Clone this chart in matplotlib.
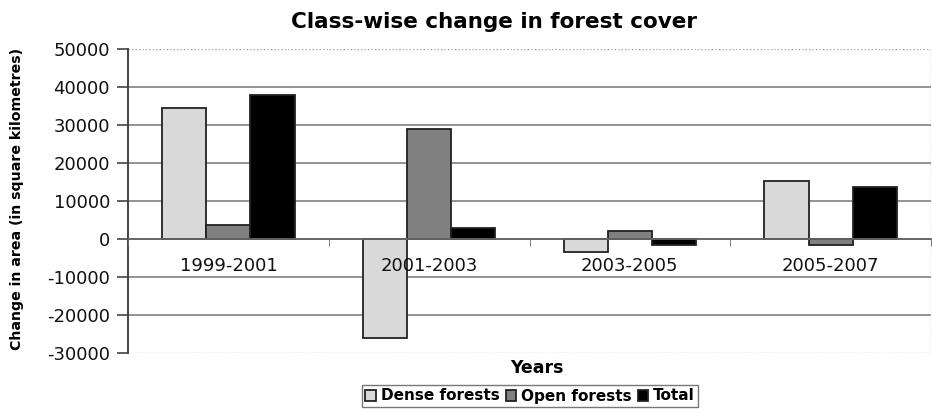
import matplotlib
matplotlib.use("Agg")
import matplotlib.pyplot as plt
import numpy as np

plt.rcParams['font.family'] = ['DejaVu Sans']

categories = ["1999-2001", "2001-2003", "2003-2005", "2005-2007"]
dense = [34500, -26000, -3500, 15200]
open_f = [3600, 29000, 2000, -1500]
total = [38000, 2800, -1500, 13600]
series_names = ["Dense forests", "Open forests", "Total"]
colors = ["#d9d9d9", "#808080", "#000000"]
yticks = [-30000, -20000, -10000, 0, 10000, 20000, 30000, 40000, 50000]

fig = plt.figure(figsize=(9.32, 4.09), dpi=100)
ax = fig.add_axes([128/932, (409-353)/409, (931-128)/932, (353-49)/409])
ax.set_axisbelow(False)

x = np.arange(len(categories))
w = 0.22
for i, (vals, name, c) in enumerate(zip([dense, open_f, total], series_names, colors)):
    ax.bar(x + (i-1)*w, vals, width=w, color=c, edgecolor="#222222", linewidth=1.3,
           label=name, zorder=2)

ax.set_xlim(-0.5, len(categories)-0.5)
ax.set_ylim(-30000, 50000)
ax.set_yticks(yticks)
ax.set_yticklabels([str(v) for v in yticks], fontsize=13, color="#111111")
for v in yticks[1:-1]:
    ax.axhline(v, color="#8a8a8a", linewidth=1.3, zorder=1)
ax.axhline(50000, color="#9aa4b8", linewidth=1.0, linestyle=(0, (1, 1.5)), zorder=1)
ax.axhline(-30000, color="#9aa4b8", linewidth=1.0, linestyle=(0, (1, 1.5)), zorder=1)

for s in ['top', 'right']:
    ax.spines[s].set_visible(False)
ax.axvline(len(categories)-0.5, color="#9aa4b8", linewidth=1.0, linestyle=(0, (1, 1.5)))
ax.spines['left'].set_color("#444444")
ax.spines['left'].set_linewidth(1.4)
ax.spines['bottom'].set_position(('data', 0))
ax.spines['bottom'].set_color("#666666")
ax.spines['bottom'].set_linewidth(1.3)

ax.set_xticks(x)
ax.set_xticklabels(categories, fontsize=13, color="#111111")
ax.tick_params(axis='x', which='major', length=0, pad=13)
ax.set_xticks(np.arange(len(categories)+1) - 0.5, minor=True)
ax.tick_params(axis='x', which='minor', length=5, color="#666666", direction='out')
ax.tick_params(axis='y', length=8, color="#444444", width=1.2, pad=5)

fig.text(494/932, 1-22/409, "Class-wise change in forest cover", ha='center', va='center',
         fontsize=15.5, fontweight='bold')
fig.text(17/932, 1-199/409, "Change in area (in square kilometres)", ha='center', va='center',
         rotation=90, fontsize=10.2, fontweight='bold')
fig.text(537/932, 1-368/409, "Years", ha='center', va='center', fontsize=12.5, fontweight='bold')

leg = fig.legend(loc='center', bbox_to_anchor=(530/932, 1-396/409), ncol=3, frameon=True,
                 prop={'size': 11, 'weight': 'bold'}, handlelength=0.7, handleheight=0.7,
                 handletextpad=0.3, columnspacing=0.4, borderpad=0.2, borderaxespad=0,
                 fancybox=False, edgecolor="#555555")
leg.get_frame().set_linewidth(1.0)

fig.savefig("out.png", dpi=100)
